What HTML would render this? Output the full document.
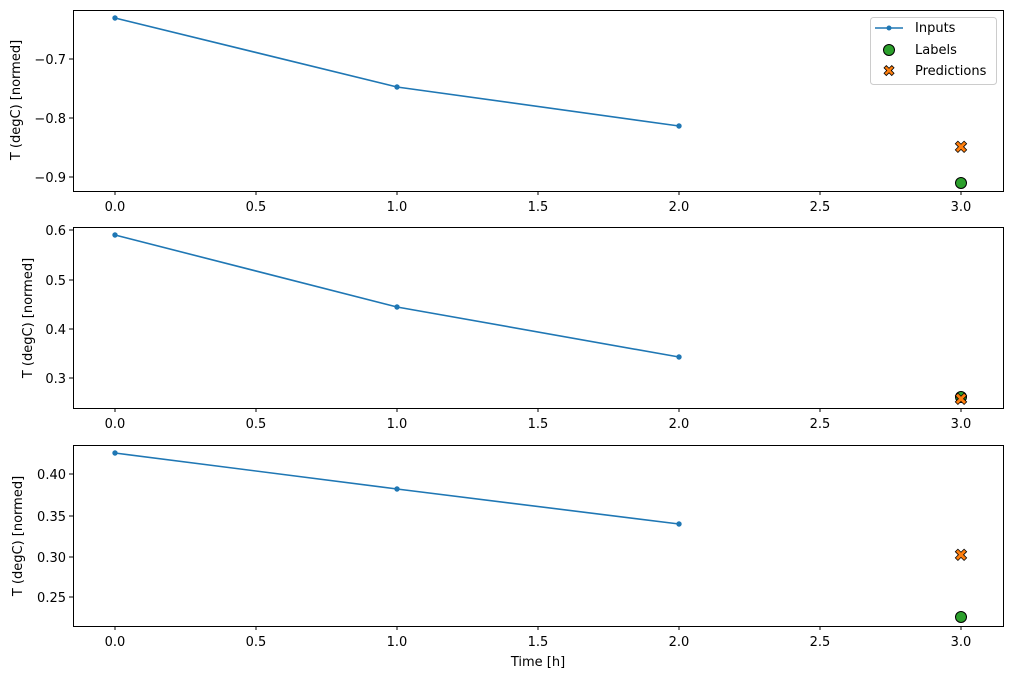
<!DOCTYPE html>
<html><head><style>body{margin:0;background:#fff}svg{display:block;font-family:"DejaVu Sans","Liberation Sans",sans-serif}</style></head><body>
<svg width="1012" height="679" xmlns="http://www.w3.org/2000/svg">
<g font-size="13" fill="#000">
<!-- Panel 1 -->
<rect x="73.5" y="10.5" width="930" height="181" fill="none" stroke="#000" stroke-width="1"/>
<g stroke="#000"><line x1="69" x2="73" y1="59" y2="59"/><line x1="69" x2="73" y1="118" y2="118"/><line x1="69" x2="73" y1="177" y2="177"/></g>
<g text-anchor="end"><text x="66" y="64">−0.7</text><text x="66" y="123">−0.8</text><text x="66" y="182">−0.9</text></g>
<text transform="translate(20,100) rotate(-90)" text-anchor="middle">T (degC) [normed]</text>
<polyline points="115,18 397,87 679,126" fill="none" stroke="#1f77b4" stroke-width="1.6"/>
<g fill="#1f77b4"><circle cx="115" cy="18" r="2.7"/><circle cx="397" cy="87" r="2.7"/><circle cx="679" cy="126" r="2.7"/></g>
<circle cx="961" cy="183" r="5.5" fill="#2ca02c" stroke="#000"/>
<text x="961" y="153" text-anchor="middle" font-size="17" font-weight="bold" fill="#ff7f0e" stroke="#000" stroke-width="0.8">✖</text>
<!-- legend -->
<rect x="870.5" y="17.5" width="126" height="67" rx="3" fill="#fff" stroke="#ccc"/>
<line x1="875" x2="903" y1="28" y2="28" stroke="#1f77b4" stroke-width="1.6"/><circle cx="889" cy="28" r="2.5" fill="#1f77b4"/>
<circle cx="889" cy="50" r="5.5" fill="#2ca02c" stroke="#000"/>
<text x="889" y="76" text-anchor="middle" font-size="15" font-weight="bold" fill="#ff7f0e" stroke="#000" stroke-width="0.8">✖</text>
<text x="915" y="32">Inputs</text><text x="915" y="54">Labels</text><text x="915" y="75">Predictions</text>
<g stroke="#000"><line x1="115" x2="115" y1="191" y2="195"/><line x1="256" x2="256" y1="191" y2="195"/><line x1="397" x2="397" y1="191" y2="195"/><line x1="538" x2="538" y1="191" y2="195"/><line x1="679" x2="679" y1="191" y2="195"/><line x1="820" x2="820" y1="191" y2="195"/><line x1="961" x2="961" y1="191" y2="195"/></g>
<g text-anchor="middle"><text x="115" y="211">0.0</text><text x="256" y="211">0.5</text><text x="397" y="211">1.0</text><text x="538" y="211">1.5</text><text x="679" y="211">2.0</text><text x="820" y="211">2.5</text><text x="961" y="211">3.0</text></g>

<!-- Panel 2 -->
<rect x="73.5" y="227.5" width="930" height="181" fill="none" stroke="#000"/>
<g stroke="#000"><line x1="69" x2="73" y1="230" y2="230"/><line x1="69" x2="73" y1="280" y2="280"/><line x1="69" x2="73" y1="329" y2="329"/><line x1="69" x2="73" y1="378" y2="378"/></g>
<g text-anchor="end"><text x="66" y="235">0.6</text><text x="66" y="285">0.5</text><text x="66" y="334">0.4</text><text x="66" y="383">0.3</text></g>
<text transform="translate(32,318) rotate(-90)" text-anchor="middle">T (degC) [normed]</text>
<polyline points="115,235 397,307 679,357" fill="none" stroke="#1f77b4" stroke-width="1.6"/>
<g fill="#1f77b4"><circle cx="115" cy="235" r="2.7"/><circle cx="397" cy="307" r="2.7"/><circle cx="679" cy="357" r="2.7"/></g>
<circle cx="961" cy="397" r="5.5" fill="#2ca02c" stroke="#000"/>
<text x="961" y="405" text-anchor="middle" font-size="17" font-weight="bold" fill="#ff7f0e" stroke="#000" stroke-width="0.8">✖</text>
<g stroke="#000"><line x1="115" x2="115" y1="408" y2="412"/><line x1="256" x2="256" y1="408" y2="412"/><line x1="397" x2="397" y1="408" y2="412"/><line x1="538" x2="538" y1="408" y2="412"/><line x1="679" x2="679" y1="408" y2="412"/><line x1="820" x2="820" y1="408" y2="412"/><line x1="961" x2="961" y1="408" y2="412"/></g>
<g text-anchor="middle"><text x="115" y="428">0.0</text><text x="256" y="428">0.5</text><text x="397" y="428">1.0</text><text x="538" y="428">1.5</text><text x="679" y="428">2.0</text><text x="820" y="428">2.5</text><text x="961" y="428">3.0</text></g>

<!-- Panel 3 -->
<rect x="73.5" y="445.5" width="930" height="181" fill="none" stroke="#000"/>
<g stroke="#000"><line x1="69" x2="73" y1="474" y2="474"/><line x1="69" x2="73" y1="516" y2="516"/><line x1="69" x2="73" y1="557" y2="557"/><line x1="69" x2="73" y1="597" y2="597"/></g>
<g text-anchor="end"><text x="66" y="479">0.40</text><text x="66" y="521">0.35</text><text x="66" y="562">0.30</text><text x="66" y="602">0.25</text></g>
<text transform="translate(22,536) rotate(-90)" text-anchor="middle">T (degC) [normed]</text>
<polyline points="115,453 397,489 679,524" fill="none" stroke="#1f77b4" stroke-width="1.6"/>
<g fill="#1f77b4"><circle cx="115" cy="453" r="2.7"/><circle cx="397" cy="489" r="2.7"/><circle cx="679" cy="524" r="2.7"/></g>
<circle cx="961" cy="617" r="5.5" fill="#2ca02c" stroke="#000"/>
<text x="961" y="561" text-anchor="middle" font-size="17" font-weight="bold" fill="#ff7f0e" stroke="#000" stroke-width="0.8">✖</text>
<g stroke="#000"><line x1="115" x2="115" y1="626" y2="630"/><line x1="256" x2="256" y1="626" y2="630"/><line x1="397" x2="397" y1="626" y2="630"/><line x1="538" x2="538" y1="626" y2="630"/><line x1="679" x2="679" y1="626" y2="630"/><line x1="820" x2="820" y1="626" y2="630"/><line x1="961" x2="961" y1="626" y2="630"/></g>
<g text-anchor="middle"><text x="115" y="646">0.0</text><text x="256" y="646">0.5</text><text x="397" y="646">1.0</text><text x="538" y="646">1.5</text><text x="679" y="646">2.0</text><text x="820" y="646">2.5</text><text x="961" y="646">3.0</text></g>
<text x="538" y="666" text-anchor="middle">Time [h]</text>
</g>
</svg>
</body></html>
